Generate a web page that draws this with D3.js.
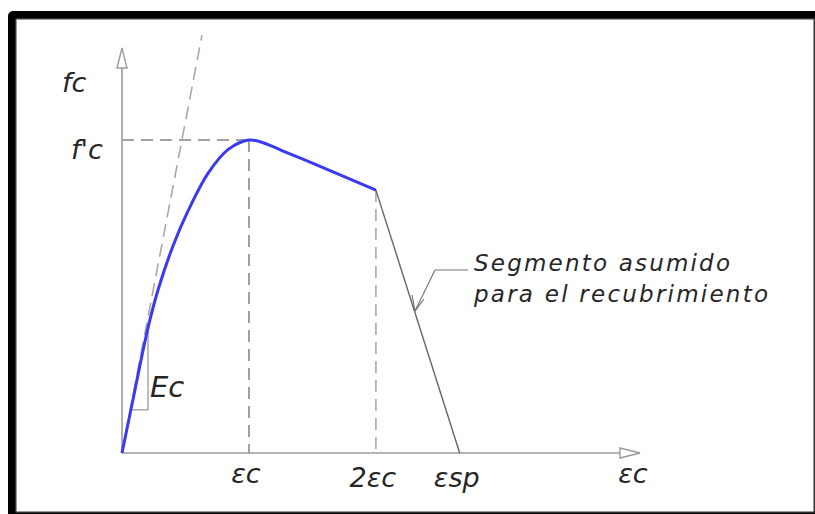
<!DOCTYPE html>
<html>
<head>
<meta charset="utf-8">
<script src="https://cdn.jsdelivr.net/npm/d3@7"></script>
<style>
  html, body { margin: 0; padding: 0; background: #fff; }
  svg { display: block; }
  text { font-family: "DejaVu Sans", sans-serif; font-style: italic; fill: #262626; }
</style>
</head>
<body>
<svg id="chart" width="815" height="514"></svg>
<script>
// ---- data (strain in units of εc, stress in units of f'c) ----
const curveStrain = [0, 0.076, 0.207, 0.286, 0.404, 0.522, 0.680, 0.837, 1.0, 1.10, 1.25, 1.5, 1.75, 2.0];
const curveStress = [0, 0.150, 0.404, 0.524, 0.664, 0.775, 0.895, 0.970, 1.0, 0.993, 0.968, 0.926, 0.883, 0.840];
const spallStrain = [2.0, 2.66];
const spallStress = [0.840, 0];
const tangentStrain = [0, 0.63];
const tangentStress = [0, 1.335];
const tickValues = [1, 2, 2.66];
const tickLabels = ["εc", "2εc", "εsp"];
const axisLabelX = "εc";
const axisLabelY = "fc";
const peakLabel = "f'c";
const modulusLabel = "Ec";
const noteLines = ["Segmento asumido", "para el recubrimiento"];

const svg = d3.select("#chart");

// frame
svg.append("rect").attr("x", 8).attr("y", 11).attr("width", 815).attr("height", 510)
  .attr("rx", 5).attr("fill", "#000");
svg.append("rect").attr("x", 16).attr("y", 19).attr("width", 798).attr("height", 493)
  .attr("fill", "#fff").attr("stroke", "#555").attr("stroke-width", 1.2);

const x = d3.scaleLinear().domain([0, 4.08]).range([122, 640]);
const y = d3.scaleLinear().domain([0, 1.294]).range([453, 48]);

const grey = "#9a9a9a";
const dash = "12,7";

// axes
svg.append("line").attr("x1", x(0)).attr("y1", y(0)).attr("x2", x(4.08) - 19).attr("y2", y(0))
  .attr("stroke", grey).attr("stroke-width", 1.6);
svg.append("line").attr("x1", x(0)).attr("y1", y(0)).attr("x2", x(0)).attr("y2", y(1.294) + 19)
  .attr("stroke", grey).attr("stroke-width", 1.6);
// arrowheads (open)
const ax = x(4.08), ay = y(0);
svg.append("path").attr("d", `M${ax - 20},${ay - 5} L${ax},${ay} L${ax - 20},${ay + 5} Z`)
  .attr("fill", "#fff").attr("stroke", grey).attr("stroke-width", 1.4);
const bx = x(0), by = y(1.294);
svg.append("path").attr("d", `M${bx - 5},${by + 20} L${bx},${by} L${bx + 5},${by + 20} Z`)
  .attr("fill", "#fff").attr("stroke", grey).attr("stroke-width", 1.4);

// dashed guides
svg.append("line").attr("x1", x(0)).attr("y1", y(1)).attr("x2", x(1)).attr("y2", y(1))
  .attr("stroke", "#a0a0a0").attr("stroke-width", 2).attr("stroke-dasharray", dash);
svg.append("line").attr("x1", x(1)).attr("y1", y(1)).attr("x2", x(1)).attr("y2", y(0))
  .attr("stroke", "#a0a0a0").attr("stroke-width", 2).attr("stroke-dasharray", dash);
svg.append("line").attr("x1", x(2)).attr("y1", y(0.84)).attr("x2", x(2)).attr("y2", y(0))
  .attr("stroke", "#a8a8a8").attr("stroke-width", 1.6).attr("stroke-dasharray", dash);

// tangent (Ec)
const lineGen = d3.line().x(d => x(d[0])).y(d => y(d[1]));
svg.append("path").attr("d", lineGen(d3.zip(tangentStrain, tangentStress)))
  .attr("fill", "none").attr("stroke", "#a8a8a8").attr("stroke-width", 1.6)
  .attr("stroke-dasharray", "13,7");

// Ec bracket
svg.append("path").attr("d", `M${x(0.078)},${y(0.138)} L${x(0.205)},${y(0.138)} L${x(0.205)},${y(0.39)}`)
  .attr("fill", "none").attr("stroke", "#9a9a9a").attr("stroke-width", 1.3);

// spalling segment
svg.append("path").attr("d", lineGen(d3.zip(spallStrain, spallStress)))
  .attr("fill", "none").attr("stroke", "#666").attr("stroke-width", 1.4);

// main curve
svg.append("path")
  .attr("d", d3.line().x(d => x(d[0])).y(d => y(d[1])).curve(d3.curveCatmullRom.alpha(0.5))(d3.zip(curveStrain, curveStress)))
  .attr("fill", "none").attr("stroke", "#3a3af2").attr("stroke-width", 3);

// tick labels
svg.selectAll("text.tick").data(tickValues).enter().append("text")
  .attr("class", "tick")
  .attr("x", d => x(d) - 3).attr("y", (d, i) => i === 0 ? 483 : 487)
  .attr("text-anchor", "middle").attr("font-size", 27)
  .text((d, i) => tickLabels[i]);
svg.append("text").attr("x", 633).attr("y", 483).attr("text-anchor", "middle")
  .attr("font-size", 27).text(axisLabelX);

// y labels
svg.append("text").attr("x", 62).attr("y", 92).attr("font-size", 27).text(axisLabelY);
svg.append("text").attr("x", 71).attr("y", 159).attr("font-size", 27).text(peakLabel);
svg.append("text").attr("x", 150).attr("y", 397).attr("font-size", 29).text(modulusLabel);

// annotation leader
const tipX = 415, tipY = 311;
svg.append("path").attr("d", `M468,270 L435,270 L${tipX},${tipY}`)
  .attr("fill", "none").attr("stroke", "#777").attr("stroke-width", 1.2);
svg.append("path").attr("d", `M${tipX - 3},${tipY - 16} L${tipX},${tipY} L${tipX + 9},${tipY - 12}`)
  .attr("fill", "none").attr("stroke", "#777").attr("stroke-width", 1.2);

svg.append("text").attr("x", 474).attr("y", 271).attr("font-size", 23)
  .attr("textLength", 256).attr("lengthAdjust", "spacing").text(noteLines[0]);
svg.append("text").attr("x", 474).attr("y", 302).attr("font-size", 23)
  .attr("textLength", 294).attr("lengthAdjust", "spacing").text(noteLines[1]);
</script>
</body>
</html>
